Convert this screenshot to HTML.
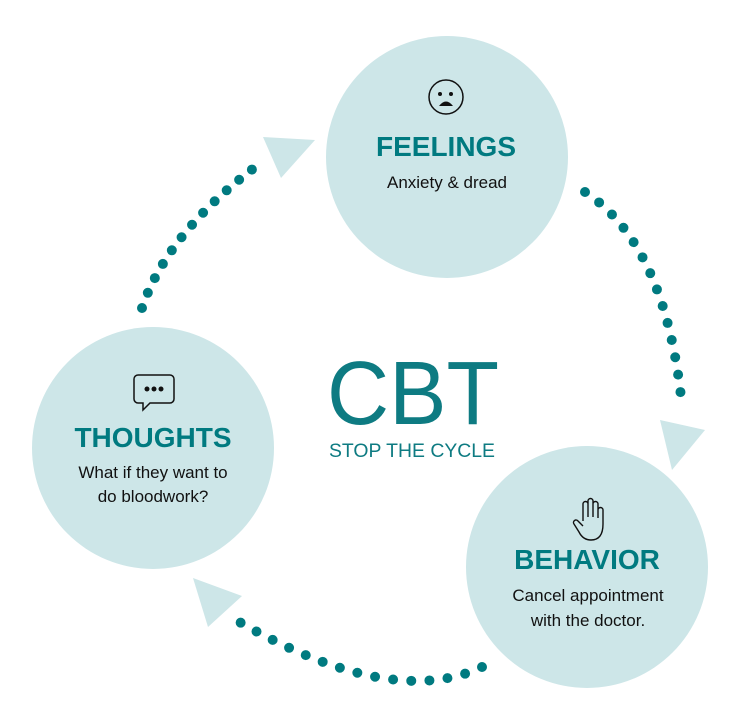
<!DOCTYPE html>
<html><head><meta charset="utf-8"><style>
body{margin:0;background:#fff;}
svg{display:block}
text{font-family:"Liberation Sans",sans-serif;}
</style></head><body>
<svg width="748" height="728" viewBox="0 0 748 728">
<g fill="#cde6e8">
<circle cx="447" cy="157" r="121"/>
<circle cx="153" cy="448" r="121"/>
<circle cx="587" cy="567" r="121"/>
<polygon points="263,137 315,140 281,178"/>
<polygon points="660,420 705,430 672,470"/>
<polygon points="193,578 242,596 208,627"/>
</g>
<g fill="none" stroke="#007a80" stroke-width="10" stroke-linecap="round">
<path d="M142,308 Q168,231 262,162" stroke-dasharray="0 16.3"/>
<path d="M585,192 Q666,245 682,406" stroke-dasharray="0 17.6"/>
<path d="M482,667 Q391,710 236,620" stroke-dasharray="0 18.2"/>
</g>
<g fill="none" stroke="#111" stroke-width="1.5">
<circle cx="446" cy="97" r="17"/>
</g>
<circle cx="440" cy="94" r="2" fill="#111"/><circle cx="451" cy="94" r="2" fill="#111"/>
<path d="M439,106 Q446,97 453,106 Z" fill="#111"/>
<path d="M138,375 h32 a4,4 0 0 1 4,4 v20 a4,4 0 0 1 -4,4 h-20 l-7,7 v-7 h-5 a4,4 0 0 1 -4,-4 v-20 a4,4 0 0 1 4,-4z" fill="none" stroke="#111" stroke-width="1.5"/>
<circle cx="147" cy="389" r="2.5" fill="#111"/><circle cx="154" cy="389" r="2.5" fill="#111"/><circle cx="161" cy="389" r="2.5" fill="#111"/>
<path d="M583,521 v-17 a2.5,2.5 0 0 1 5,0 v13 v-16 a2.5,2.5 0 0 1 5,0 v16 v-13 a2.5,2.5 0 0 1 5,0 v14 v-8 a2.5,2.5 0 0 1 5,0 v14 q0,16 -12,16 q-8,0 -12,-8 l-5,-8 a2.5,2.5 0 0 1 4,-3 l5,5" fill="none" stroke="#111" stroke-width="1.4"/>
<g text-anchor="middle">
<text x="446" y="156" font-size="28" font-weight="bold" fill="#007a80">FEELINGS</text>
<text x="447" y="188" font-size="17" fill="#111">Anxiety &amp; dread</text>
<text x="153" y="447" font-size="28" font-weight="bold" fill="#007a80">THOUGHTS</text>
<text x="153" y="478" font-size="17" fill="#111">What if they want to</text>
<text x="153" y="502" font-size="17" fill="#111">do bloodwork?</text>
<text x="587" y="569" font-size="28" font-weight="bold" fill="#007a80">BEHAVIOR</text>
<text x="588" y="601" font-size="17" fill="#111">Cancel appointment</text>
<text x="588" y="626" font-size="17" fill="#111">with the doctor.</text>
<text x="413" y="424" font-size="90" fill="#0e7b82" textLength="172" lengthAdjust="spacingAndGlyphs">CBT</text>
<text x="412" y="457" font-size="19" fill="#0e7b82" textLength="166" lengthAdjust="spacingAndGlyphs">STOP THE CYCLE</text>
</g>
</svg>
</body></html>
